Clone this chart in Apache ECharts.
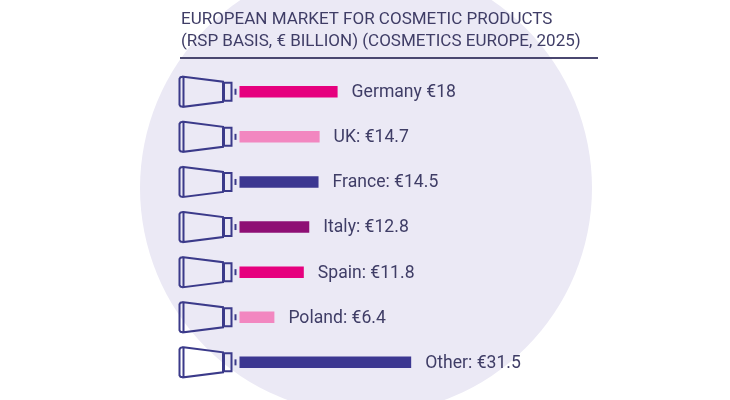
<!DOCTYPE html>
<html>
<head>
<meta charset="utf-8">
<script src="https://cdn.jsdelivr.net/npm/echarts@6/dist/echarts.min.js"></script>
<style>html,body{margin:0;padding:0;background:#fff}#main{width:730px;height:400px}</style>
</head>
<body>
<div id="main"></div>
<script>
// values in EUR billion
var categories = ['Germany', 'UK', 'France', 'Italy', 'Spain', 'Poland', 'Other'];
var values = [18, 14.7, 14.5, 12.8, 11.8, 6.4, 31.5];
var labels = ['Germany €18', 'UK: €14.7', 'France: €14.5', 'Italy: €12.8', 'Spain: €11.8', 'Poland: €6.4', 'Other: €31.5'];
var barColors = ['#e6007e', '#f287c0', '#3c3791', '#8e0f74', '#e6007e', '#f287c0', '#3c3791'];

var ink = '#3b3a8a';
var chart = echarts.init(document.getElementById('main'));

// little cosmetic tube next to each bar, x is fixed, y follows the category axis
function drawTube(params, api) {
  var y = api.coord([0, api.value(0)])[1];
  var line = {stroke: ink, lineWidth: 2, fill: 'none'};
  return {
    type: 'group',
    x: 0,
    y: y,
    children: [
      {type: 'polyline', shape: {points: [[183, -15], [180.5, -14.5], [179.5, -13], [179.5, 13], [180.5, 14.5], [183, 15]]}, style: line},
      {type: 'polygon', shape: {points: [[183.5, -15], [223, -10], [223, 10], [183.5, 15]]}, style: line},
      {type: 'rect', shape: {x: 224, y: -9, width: 7.5, height: 18}, style: line},
      {type: 'line', shape: {x1: 235.5, y1: -3, x2: 235.5, y2: 3}, style: line}
    ]
  };
}

chart.setOption({
  animation: false,
  title: {
    text: 'EUROPEAN MARKET FOR COSMETIC PRODUCTS\n(RSP BASIS, € BILLION) (COSMETICS EUROPE, 2025)',
    left: 181,
    top: 9,
    padding: 0,
    textStyle: {fontFamily: 'Roboto', fontWeight: 'normal', fontSize: 17, lineHeight: 22, color: '#3f3d66'}
  },
  graphic: [
    {type: 'circle', z: -10, shape: {cx: 366, cy: 188, r: 226}, style: {fill: '#ebe9f5'}},
    {type: 'line', z: 5, shape: {x1: 180, y1: 58, x2: 598, y2: 58}, style: {stroke: '#4a4770', lineWidth: 2}}
  ],
  grid: {left: 239.5, top: 69.2, width: 190.75, height: 315.7},
  xAxis: {type: 'value', min: 0, max: 35, show: false},
  yAxis: {type: 'category', data: categories, inverse: true, show: false},
  series: [
    {
      type: 'bar',
      data: values.map(function (v, i) {
        return {value: v, itemStyle: {color: barColors[i]}};
      }),
      barWidth: 11.5,
      label: {
        show: true,
        position: 'right',
        distance: 14,
        offset: [0, 1],
        fontFamily: 'Roboto',
        fontSize: 17.6,
        color: '#3f3d66',
        formatter: function (p) { return labels[p.dataIndex]; }
      }
    },
    {
      type: 'custom',
      renderItem: drawTube,
      clip: false,
      silent: true,
      encode: {y: 0},
      data: categories.map(function (c, i) { return [i]; })
    }
  ]
});
</script>
</body>
</html>
